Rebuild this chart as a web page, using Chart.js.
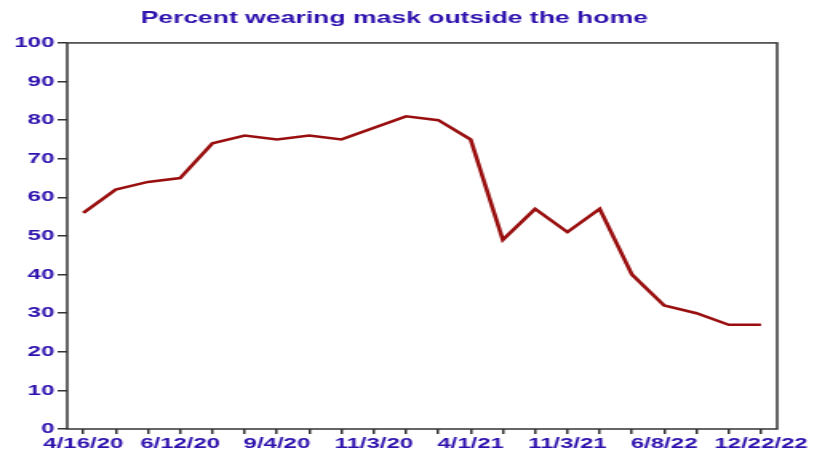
<!DOCTYPE html>
<html lang="en">
<head>
    <meta charset="utf-8" />
    <title>Percent wearing mask outside the home</title>
    <script src="https://cdn.jsdelivr.net/npm/chart.js"></script>
    <style>
        html, body { margin: 0; padding: 0; background: #fff; overflow: hidden; }
        /* the original chart is stretched sideways, so draw narrow and scale up */
        #wrap { width: 516px; height: 472px; transform: scaleX(1.599); transform-origin: 0 0; }
    </style>
</head>
<body>
    <div id="wrap"><canvas id="maskChart"></canvas></div>

    <script>
        // survey dates (only every third one is labelled on the axis)
        const dateLabels = [
            '4/16/20', '', '', '6/12/20', '', '', '9/4/20', '', '', '11/3/20', '',
            '', '4/1/21', '', '', '11/3/21', '', '', '6/8/22', '', '', '12/22/22'
        ];
        const maskPercent = [56, 62, 64, 65, 74, 76, 75, 76, 75, 78, 81, 80, 75, 49, 57, 51, 57, 40, 32, 30, 27, 27];
        const yTicks = [0, 10, 20, 30, 40, 50, 60, 70, 80, 90, 100];

        const blue = '#2e10ad';
        const tickFont = { family: 'Liberation Sans, Arial, sans-serif', weight: 'bold', size: 15 };

        // box round the plot area
        const frame = {
            id: 'frame',
            afterDraw(chart) {
                const a = chart.chartArea;
                const ctx = chart.ctx;
                ctx.save();
                ctx.strokeStyle = '#333';
                ctx.lineWidth = 1.5;
                ctx.strokeRect(a.left, a.top, a.right - a.left, a.bottom - a.top);
                ctx.restore();
            }
        };

        new Chart(document.getElementById('maskChart'), {
            type: 'line',
            data: {
                labels: dateLabels,
                datasets: [{
                    data: maskPercent,
                    borderColor: '#990e0e',
                    borderWidth: 2.6,
                    pointRadius: 0,
                    tension: 0,
                    fill: false
                }]
            },
            options: {
                responsive: true,
                maintainAspectRatio: false,
                animation: false,
                layout: { padding: { left: 7, right: 30, top: 0, bottom: 18 } },
                plugins: {
                    legend: { display: false },
                    tooltip: { enabled: false },
                    title: {
                        display: true,
                        text: 'Percent wearing mask outside the home',
                        color: blue,
                        font: { family: 'Liberation Sans, Arial, sans-serif', weight: 'bold', size: 16.6 },
                        padding: { top: 8, bottom: 15 }
                    }
                },
                scales: {
                    x: {
                        offset: true,
                        border: { display: false },
                        grid: { drawOnChartArea: false, drawTicks: true, tickLength: 5, color: '#333', lineWidth: 1.5 },
                        ticks: { color: blue, font: tickFont, autoSkip: false, maxRotation: 0, padding: 1 }
                    },
                    y: {
                        min: 0,
                        max: 100,
                        afterBuildTicks: axis => { axis.ticks = yTicks.map(v => ({ value: v })); },
                        border: { display: false },
                        grid: { drawOnChartArea: false, drawTicks: true, tickLength: 6, color: '#333', lineWidth: 1.5 },
                        ticks: { color: blue, font: tickFont, padding: 2 }
                    }
                }
            },
            plugins: [frame]
        });
    </script>
</body>
</html>
